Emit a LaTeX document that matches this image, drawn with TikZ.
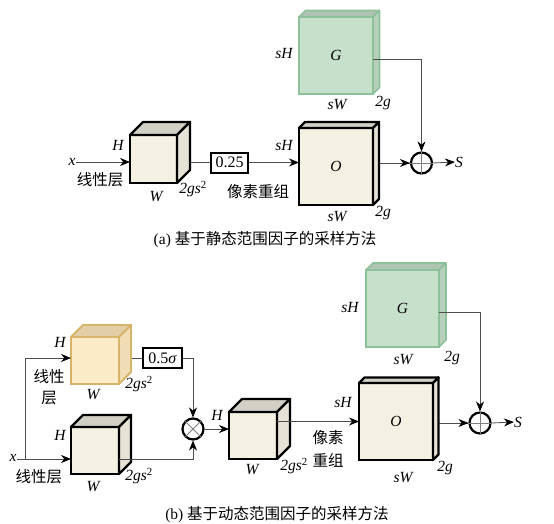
\documentclass[tikz,border=0pt]{standalone}
\usepackage{fontspec}
\setmainfont{Liberation Serif}
\newfontfamily\cjk{Noto Sans CJK SC}
\usetikzlibrary{arrows.meta,backgrounds}

\definecolor{crfront}{HTML}{F4F1E3}
\definecolor{crtop}{HTML}{D2CFC5}
\definecolor{crside}{HTML}{E6E3D6}
\definecolor{grfront}{HTML}{C7E0CC}
\definecolor{grtop}{HTML}{AFC4B3}
\definecolor{grside}{HTML}{B8CFBC}
\definecolor{gredge}{HTML}{8DC199}
\definecolor{yefront}{HTML}{FBEBC6}
\definecolor{yetop}{HTML}{E2CFA8}
\definecolor{yeside}{HTML}{F0DDB5}
\definecolor{yeedge}{HTML}{D8B36A}
\definecolor{wire}{HTML}{4D4D4D}

\tikzset{
  cr/.style={draw=black, line width=2.4pt},
  gr/.style={draw=gredge, line width=1.6pt},
  ye/.style={draw=yeedge, line width=1.9pt},
  lbl/.style={font=\fontsize{15.5}{17}\selectfont\itshape, inner sep=0pt},
  zh/.style={font=\fontsize{15.5}{17}\selectfont\cjk, inner sep=0pt},
  captext/.style={font=\fontsize{15.5}{17}\selectfont, inner sep=0pt},
  scalebox/.style={draw=black, line width=2pt, fill=white, inner sep=1pt,
    minimum height=20pt, font=\fontsize{16}{18}\selectfont},
  joint/.style={circle, draw=black, line width=2.2pt, fill=white,
    minimum size=21pt, inner sep=0pt},
  wireline/.style={draw=wire, line width=0.8pt},
  flow/.style={wireline, -{Stealth[length=10pt,width=8pt,black]}},
}

% name, centre, width, height, depth, colour set, text
\newcommand{\blockcube}[7]{%
  \node[#6, fill=#6front, minimum width=#3, minimum height=#4, inner sep=0pt,
    outer sep=0pt, font=\fontsize{15.5}{17}\selectfont\itshape] (#1) at (#2) {#7};
  \filldraw[#6, fill=#6top, line join=round] (#1.north west) -- ++(#5,-#5)
    -- ++(#3,0) -- (#1.north east) -- cycle;
  \filldraw[#6, fill=#6side, line join=round] (#1.north east) -- ++(#5,-#5)
    -- ++(0,#4) -- (#1.south east) -- cycle;
}
\newcommand{\chn}{2gs\textsuperscript{\upshape 2}}

\begin{document}
\begin{tikzpicture}[x=1pt,y=-1pt]
  \useasboundingbox (0,0) rectangle (554,523);

  % (a)
  \blockcube{lina}{153.5,159}{47}{48}{13}{cr}{}
  \blockcube{outa}{336,166.5}{74}{77}{6}{cr}{O}
  \blockcube{gaina}{336,55.5}{74}{77}{6.5}{gr}{G}
  \node[scalebox, minimum width=37pt] (sca) at (229.5,162.5) {0.25};
  \node[joint] (adda) at (421.5,163) {};
  \draw[wireline, draw=gray] (adda.north) -- (adda.south) (adda.west) -- (adda.east);
  \node[lbl] (xa) at (72,162) {x};
  \node[lbl] (sa) at (459,162) {S};
  \begin{pgfonlayer}{background}
    \draw[wireline] (sca.west -| lina.east) -- (sca.west);
    \draw[wireline] (adda.west -| outa.east) -- (adda.west);
    \draw[wireline] ([yshift=-3.5pt]gaina.east) -- ++(30,0);
  \end{pgfonlayer}
  \draw[flow] (xa.east) -- (xa.east -| lina.west);
  \draw[flow] (sca.east) -- (sca.east -| outa.west);
  \draw[flow] ([yshift=-3.5pt]gaina.east) -| (adda.north);
  \draw[flow] (adda.west -| outa.east) ++(26,0) -- (adda.west);
  \draw[flow] (adda.east) -- (sa.west);

  \node[lbl] (ha) at (118,145) {H};
  \node[zh] (lyra) at (100,180) {线性层};
  \node[lbl] (wa) at (156,197) {W};
  \node[lbl] (cha) at (193,189) {\chn};
  \node[zh] (psa) at (258,192) {像素重组};
  \node[lbl] (sha) at (284,145) {sH};
  \node[lbl] (swa) at (337,217) {sW};
  \node[lbl] (ga) at (383,213) {2g};
  \node[lbl] (shga) at (284,53) {sH};
  \node[lbl] (swga) at (337,105) {sW};
  \node[lbl] (gga) at (383,103) {2g};
  \node[captext] (capa) at (265,240) {(a) {\cjk 基于静态范围因子的采样方法}};

  % (b)
  \blockcube{yel}{95,360.5}{48}{47}{12}{ye}{}
  \blockcube{linb}{95,450.5}{48}{47}{12}{cr}{}
  \blockcube{mid}{253,435.5}{48}{47}{13}{cr}{}
  \blockcube{outb}{396,421.5}{74}{77}{5.5}{cr}{O}
  \blockcube{gainb}{402.5,308.5}{73}{77}{7}{gr}{G}
  \node[scalebox, minimum width=39pt] (scb) at (162.5,358) {0.5\textit{σ}};
  \node[joint] (mul) at (193,429) {};
  \draw[wireline, draw=gray] (mul.north east) -- (mul.south west)
    (mul.north west) -- (mul.south east);
  \node[joint] (addb) at (480,423) {};
  \draw[wireline, draw=gray] (addb.north) -- (addb.south) (addb.west) -- (addb.east);
  \node[lbl] (xb) at (13,458) {x};
  \node[lbl] (sb) at (518,422) {S};
  \coordinate (split) at (25,459);
  \begin{pgfonlayer}{background}
    \draw[wireline] (scb.west -| yel.east) -- (scb.west);
    \draw[wireline] (split -| linb.east) -- ++(14,0);
    \draw[wireline] (outb.east |- addb) -- (addb.west);
    \draw[wireline] ([yshift=-3.5pt]gainb.east) -- ++(30,0);
    \draw[wireline] (mid.east |- outb) -- ++(40,0);
  \end{pgfonlayer}
  \draw[flow] (xb.east |- split) -- (split -| linb.west);
  \draw[flow] (split) |- (scb -| yel.west);
  \draw[flow] (scb.east) -| (mul.north);
  \draw[flow] (split -| linb.east) -| (mul.south);
  \draw[flow] (mul.east) -- (mul.east -| mid.west);
  \draw[flow] (mid.east |- outb) -- (outb.west);
  \draw[flow] ([yshift=-3.5pt]gainb.east) -| (addb.north);
  \draw[flow] (outb.east |- addb) ++(26,0) -- (addb.west);
  \draw[flow] (addb.east) -- (sb.west);

  \node[lbl] (hy) at (60,342) {H};
  \node[zh] (lyry) at (49,377) {线性};
  \node[zh] (lyrz) at (49,398) {层};
  \node[lbl] (wy) at (93,395) {W};
  \node[lbl] (chy) at (139,384) {\chn};
  \node[lbl] (hb) at (60,435) {H};
  \node[zh] (lyrb) at (39,477) {线性层};
  \node[lbl] (wb) at (93,487) {W};
  \node[lbl] (chb) at (139,476) {\chn};
  \node[lbl] (hm) at (217,415) {H};
  \node[lbl] (wm) at (252,470) {W};
  \node[lbl] (chm) at (294,466) {\chn};
  \node[zh] (psb) at (328,438) {像素};
  \node[zh] (psc) at (328,460) {重组};
  \node[lbl] (shb) at (343,402) {sH};
  \node[lbl] (swb) at (403,478) {sW};
  \node[lbl] (gb) at (445,468) {2g};
  \node[lbl] (shgb) at (350,307) {sH};
  \node[lbl] (swgb) at (403,360) {sW};
  \node[lbl] (ggb) at (452,358) {2g};
  \node[captext] (capb) at (277,515) {(b) {\cjk 基于动态范围因子的采样方法}};
\end{tikzpicture}
\end{document}
